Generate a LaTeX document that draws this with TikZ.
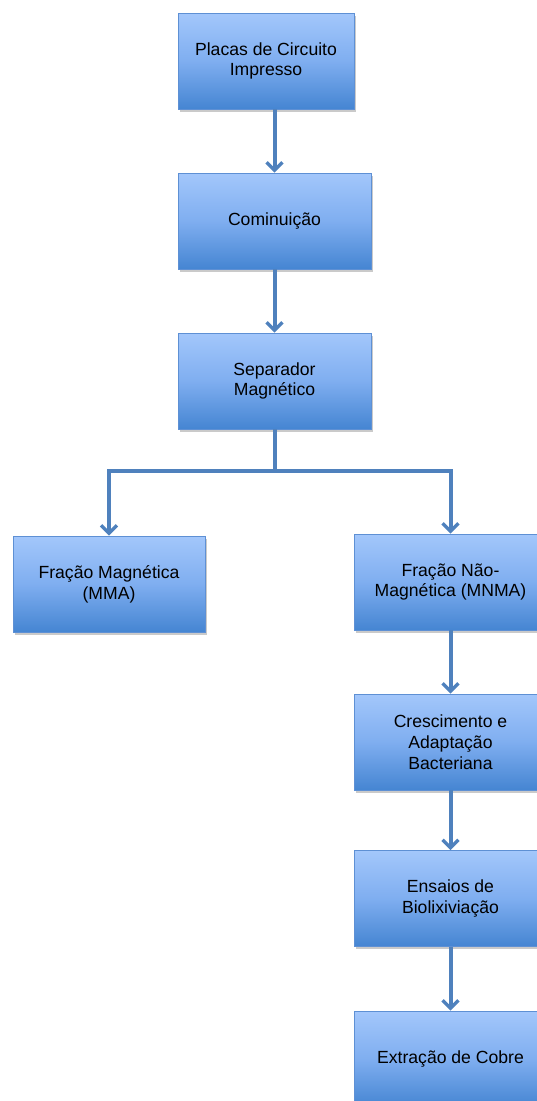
\documentclass[tikz,border=0pt]{standalone}
\usepackage{fontspec}
\setmainfont{Liberation Sans}
\usetikzlibrary{arrows.meta,shadows,calc}
\definecolor{boxtop}{HTML}{A3C7FB}
\definecolor{boxmid}{HTML}{7FAEF0}
\definecolor{boxbot}{HTML}{4585D2}
\definecolor{boxline}{HTML}{5E90D4}
\definecolor{arrcol}{HTML}{4F81BD}
\tikzset{
  stepbox/.style={draw=boxline, line width=0.6pt, top color=boxtop, bottom color=boxbot, middle color=boxmid,
    minimum height=96pt, inner sep=0pt, align=center,
    font=\fontsize{17.6}{20.8}\selectfont, text=black,
    drop shadow={shadow xshift=1.5pt, shadow yshift=-2.5pt, opacity=0.35, fill=black!60}},
  flow/.style={draw=arrcol, line width=4pt, -{Straight Barb[length=8pt,width=16pt,line width=3.4pt]}},
}
\begin{document}
\begin{tikzpicture}[x=1pt,y=-1pt]
\useasboundingbox (0,0) rectangle (536,1101);
\node[stepbox, minimum width=176pt] (p1) at (266,61) {Placas de Circuito\\Impresso};
\node[stepbox, minimum width=193pt] (p2) at (274.5,221) {Cominuição};
\node[stepbox, minimum width=193pt] (p3) at (274.5,381) {Separador\\Magnético};
\node[stepbox, minimum width=192pt] (mma) at (109,584) {Fração Magnética\\(MMA)};
\node[stepbox, minimum width=193pt] (mnma) at (450.5,582) {Fração Não-\\Magnética (MNMA)};
\node[stepbox, minimum width=193pt] (cres) at (450.5,742) {Crescimento e\\Adaptação\\Bacteriana};
\node[stepbox, minimum width=193pt] (ens) at (450.5,898.5) {Ensaios de\\Biolixiviação};
\node[stepbox, minimum width=193pt] (ext) at (450.5,1059) {Extração de Cobre};
\coordinate (br) at (274.5,471);
\draw[flow] (p1.south -| p2.north) -- (p2.north);
\draw[flow] (p2.south) -- (p3.north);
\draw[flow] (p3.south) -- (br) -| (mma.north);
\draw[flow] (br) -| (mnma.north);
\draw[flow] (mnma.south) -- (cres.north);
\draw[flow] (cres.south) -- (ens.north);
\draw[flow] (ens.south) -- (ext.north);
\end{tikzpicture}
\end{document}
